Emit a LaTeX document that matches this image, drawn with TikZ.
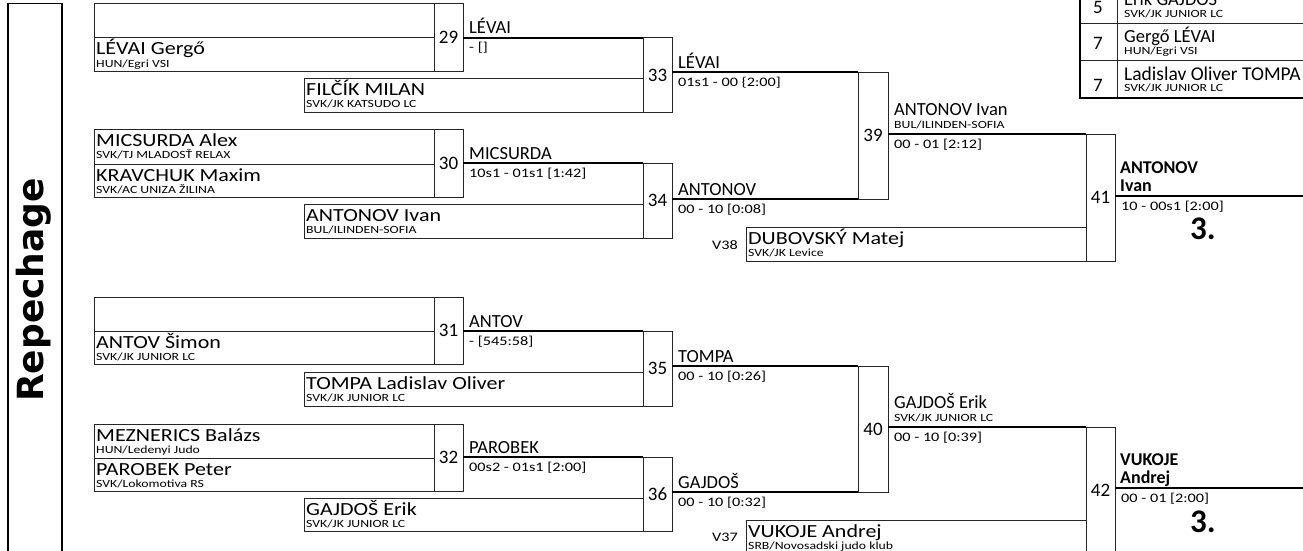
\documentclass[tikz,border=0pt]{standalone}
\usepackage{fontspec}
\setmainfont{Carlito}[FakeStretch=1.19]
\newfontfamily\plainfam{Carlito}
\newfontfamily\smallfam{Carlito}[FakeStretch=1.25]
\newfontfamily\repfam{DejaVu Sans}
\usetikzlibrary{calc}
\tikzset{
 box/.style={draw=black!85, line width=1pt, inner sep=0pt, outer sep=0pt, anchor=north west},
 win/.style={draw=black, line width=2pt},
 nm/.style={anchor=base west, inner sep=0pt, font=\fontsize{18.5}{20}\selectfont},
 wnm/.style={anchor=base west, inner sep=0pt, font=\plainfam\fontsize{18.5}{20}\selectfont},
 club/.style={anchor=base west, inner sep=0pt, font=\smallfam\fontsize{11}{13}\selectfont},
 score/.style={anchor=base west, inner sep=0pt, font=\smallfam\fontsize{13}{15}\selectfont},
 num/.style={font=\plainfam\fontsize{19}{20}\selectfont},
 tnum/.style={anchor=base, inner sep=0pt, font=\plainfam\fontsize{19}{20}\selectfont},
 boldnm/.style={anchor=base west, inner sep=0pt, font=\plainfam\bfseries\fontsize{18}{20}\selectfont},
 place/.style={anchor=base, inner sep=0pt, font=\plainfam\bfseries\fontsize{33}{35}\selectfont},
}
\newcommand{\mkslot}[7]{%
 \node[box, minimum width=#4pt, minimum height=#5pt] (#1) at (#2,#3) {};
 \node[nm] (#1n) at ($(#1.north west)+(2,17)$) {#6};
 \node[club] (#1c) at ($(#1.north west)+(2,29)$) {#7};}
\newcommand{\winlab}[5]{%
 \node[wnm] (#1n) at (#2,#3-4) {#4};
 \node[score] (#1s) at (#2,#3+14) {#5};}
\begin{document}
\begin{tikzpicture}[x=1pt,y=-1pt]
\useasboundingbox (0,0) rectangle (1303,551);
\clip (0,0) rectangle (1303,551);
\fill[white] (0,0) rectangle (1303,551);

% left frame
\node[draw=black, line width=1.5pt, minimum width=54pt, minimum height=600pt, anchor=north west, inner sep=0pt] (frame) at (7,3) {};
\node[rotate=90, inner sep=0pt, font=\repfam\bfseries\fontsize{36}{38}\selectfont] (rep) at (34,290) {Repechage};

% ---------- upper part ----------
\node[box, minimum width=340pt, minimum height=34pt] (s29a) at (94,4) {};
\mkslot{s29b}{94}{38}{340}{33}{LÉVAI Gergő}{HUN/Egri VSI}
\node[box, num, minimum width=29pt, minimum height=67pt] (m29) at (434,4) {29};

\mkslot{s33b}{304}{78}{339}{34}{FILČÍK MILAN}{SVK/JK KATSUDO LC}
\node[box, num, minimum width=29pt, minimum height=74pt] (m33) at (643,38) {33};

\mkslot{s30a}{94}{129}{340}{35}{MICSURDA Alex}{SVK/TJ MLADOSŤ RELAX}
\mkslot{s30b}{94}{164}{340}{33}{KRAVCHUK Maxim}{SVK/AC UNIZA ŽILINA}
\node[box, num, minimum width=29pt, minimum height=68pt] (m30) at (434,129) {30};

\mkslot{s34b}{304}{204}{339}{34}{ANTONOV Ivan}{BUL/ILINDEN-SOFIA}
\node[box, num, minimum width=29pt, minimum height=75pt] (m34) at (643,163) {34};

\node[box, num, minimum width=30pt, minimum height=127pt] (m39) at (858,72) {39};

\mkslot{s41b}{746}{227}{340}{34}{DUBOVSKÝ Matej}{SVK/JK Levice}
\node[score, anchor=base east] (v38) at (738,249) {V38};
\node[box, num, minimum width=29pt, minimum height=127pt] (m41) at (1086,134) {41};

\draw[win] (m29.east |- m33.north) -- (m33.north west);
\draw[win] (m30.east |- m34.north) -- (m34.north west);
\draw[win] (m33.east |- m39.north) -- (m39.north west);
\draw[win] (m34.east |- m39.south) -- (m39.south west);
\draw[win] (m39.east |- m41.north) -- (m41.north west);
\coordinate (e41) at (1310,196);
\draw[win] (m41.east |- e41) -- (e41);

\winlab{w29}{469}{38}{LÉVAI}{- []}
\winlab{w33}{678}{72}{LÉVAI}{01s1 - 00 \{2:00]}
\winlab{w30}{469}{163}{MICSURDA}{10s1 - 01s1 [1:42]}
\winlab{w34}{678}{199}{ANTONOV}{00 - 10 [0:08]}
\node[wnm] (w39n) at (894,115) {ANTONOV Ivan};
\node[club] (w39c) at (894,128) {BUL/ILINDEN-SOFIA};
\node[score] (w39s) at (894,148) {00 - 01 [2:12]};
\node[boldnm] (w41a) at (1120,173) {ANTONOV};
\node[boldnm] (w41b) at (1120,191) {Ivan};
\node[score] (w41s) at (1121,210) {10 - 00s1 [2:00]};
\node[place] (p41) at (1203,239) {3.};

% ---------- lower part ----------
\node[box, minimum width=340pt, minimum height=34pt] (s31a) at (94,297) {};
\mkslot{s31b}{94}{331}{340}{33}{ANTOV Šimon}{SVK/JK JUNIOR LC}
\node[box, num, minimum width=29pt, minimum height=67pt] (m31) at (434,297) {31};

\mkslot{s35b}{304}{372}{339}{34}{TOMPA Ladislav Oliver}{SVK/JK JUNIOR LC}
\node[box, num, minimum width=29pt, minimum height=75pt] (m35) at (643,331) {35};

\mkslot{s32a}{94}{424}{340}{34}{MEZNERICS Balázs}{HUN/Ledenyi Judo}
\mkslot{s32b}{94}{458}{340}{33}{PAROBEK Peter}{SVK/Lokomotiva RS}
\node[box, num, minimum width=29pt, minimum height=67pt] (m32) at (434,424) {32};

\mkslot{s36b}{304}{498}{339}{33}{GAJDOŠ Erik}{SVK/JK JUNIOR LC}
\node[box, num, minimum width=29pt, minimum height=74pt] (m36) at (643,457) {36};

\node[box, num, minimum width=30pt, minimum height=126pt] (m40) at (858,366) {40};

\mkslot{s42b}{746}{520}{340}{34}{VUKOJE Andrej}{SRB/Novosadski judo klub}
\node[score, anchor=base east] (v37) at (738,541) {V37};
\node[box, num, minimum width=29pt, minimum height=127pt] (m42) at (1086,427) {42};

\draw[win] (m31.east |- m35.north) -- (m35.north west);
\draw[win] (m32.east |- m36.north) -- (m36.north west);
\draw[win] (m35.east |- m40.north) -- (m40.north west);
\draw[win] (m36.east |- m40.south) -- (m40.south west);
\draw[win] (m40.east |- m42.north) -- (m42.north west);
\coordinate (e42) at (1310,488);
\draw[win] (m42.east |- e42) -- (e42);

\winlab{w31}{469}{331}{ANTOV}{- [545:58]}
\winlab{w35}{678}{366}{TOMPA}{00 - 10 [0:26]}
\winlab{w32}{469}{457}{PAROBEK}{00s2 - 01s1 [2:00]}
\winlab{w36}{678}{492}{GAJDOŠ}{00 - 10 [0:32]}
\node[wnm] (w40n) at (894,408) {GAJDOŠ Erik};
\node[club] (w40c) at (894,421) {SVK/JK JUNIOR LC};
\node[score] (w40s) at (894,441) {00 - 10 [0:39]};
\node[boldnm] (w42a) at (1120,465) {VUKOJE};
\node[boldnm] (w42b) at (1120,483) {Andrej};
\node[score] (w42s) at (1121,502) {00 - 01 [2:00]};
\node[place] (p42) at (1203,532) {3.};

% ---------- result table ----------
\node[box, minimum width=37pt, minimum height=37pt] (r1n) at (1080,-13) {};
\node[box, minimum width=200pt, minimum height=37pt] (r1t) at (1117,-13) {};
\node[box, minimum width=37pt, minimum height=37pt] (r2n) at (1080,24) {};
\node[box, minimum width=200pt, minimum height=37pt] (r2t) at (1117,24) {};
\node[box, minimum width=37pt, minimum height=37pt] (r3n) at (1080,61) {};
\node[box, minimum width=200pt, minimum height=37pt] (r3t) at (1117,61) {};
\draw[line width=2pt] (r1n.north west) -- (r3n.south west) -- (r3t.south east);
\node[tnum] (r1k) at (1098,14) {5};
\node[tnum] (r2k) at (1098,49) {7};
\node[tnum] (r3k) at (1098,91) {7};
\node[wnm] (r1a) at (1124,6) {Erik GAJDOŠ};
\node[club] (r1b) at (1124,18) {SVK/JK JUNIOR LC};
\node[wnm] (r2a) at (1124,43) {Gergő LÉVAI};
\node[club] (r2b) at (1124,55) {HUN/Egri VSI};
\node[wnm, font=\plainfam\fontsize{19.5}{21}\selectfont] (r3a) at (1124,80) {Ladislav Oliver TOMPA};
\node[club] (r3b) at (1124,92) {SVK/JK JUNIOR LC};
\end{tikzpicture}
\end{document}
